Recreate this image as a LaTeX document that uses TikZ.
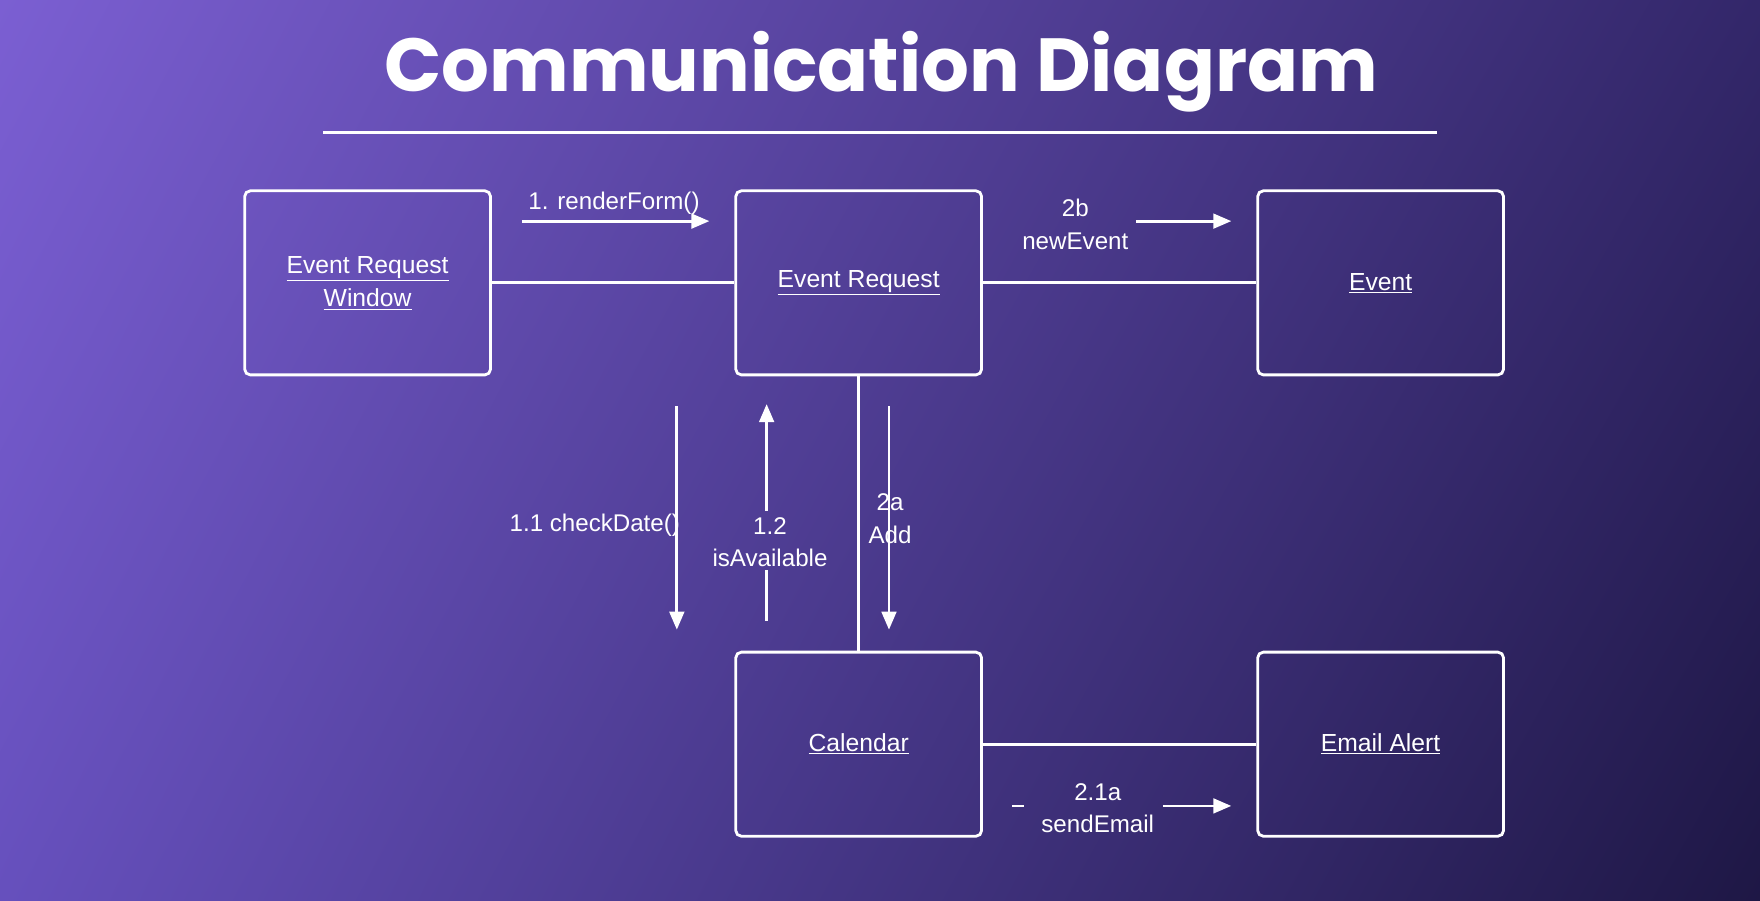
\documentclass[tikz,border=0pt]{standalone}
\usepackage{fontspec}
\setmainfont{Liberation Sans}
\newfontfamily\titlefont{Poppins}
\usetikzlibrary{arrows.meta,shadings}
\definecolor{tl}{HTML}{7B5FD2}
\definecolor{tr}{HTML}{33276A}
\definecolor{bl}{HTML}{6650BD}
\definecolor{br}{HTML}{1E1745}
\begin{document}
\begin{tikzpicture}[x=1pt,y=-1pt,
  obj/.style={draw=white,line width=2.5pt,rounded corners=5pt,minimum width=219pt,minimum height=164pt,text=white,font=\fontsize{22}{30}\selectfont,align=center},
  lbl/.style={text=white,font=\fontsize{21.5}{29}\selectfont,align=center,inner sep=1pt},
  conn/.style={draw=white,line width=2.5pt},
  msg/.style={draw=white,line width=2.5pt,-{Triangle[width=13pt,length=16pt]}}]
\shade[upper left=tl,upper right=tr,lower left=bl,lower right=br] (0,0) rectangle (1568,802);
\useasboundingbox (0,0) rectangle (1568,802);
\node[text=white,font=\titlefont\bfseries\fontsize{67}{72}\selectfont] (title) at (785,64) {Communication Diagram};
\coordinate (ul1) at (288,118); \coordinate (ul2) at (1280,118);
\draw[white,line width=2.5pt] (ul1) -- (ul2);
\node[obj] (erw) at (327.5,252) {\underline{Event Request}\\\underline{Window}};
\node[obj] (er) at (765,252) {\underline{Event Request}};
\node[obj] (ev) at (1230,252) {\underline{Event}};
\node[obj] (cal) at (765,663) {\underline{Calendar}};
\node[obj] (em) at (1230,663) {\underline{Email Alert}};
\draw[conn] (erw) -- (er);
\draw[conn] (er) -- (ev);
\draw[conn] (er) -- (cal);
\draw[conn] (cal) -- (em);
% messages
\coordinate (a1) at (465,197); \coordinate (a2) at (632,197);
\draw[msg] (a1) -- (a2);
\node[lbl] (l1) at (547,181) {1. renderForm()};
\coordinate (b1) at (1012,197); \coordinate (b2) at (1097,197);
\draw[msg] (b1) -- (b2);
\node[lbl] (l2b) at (958,200) {2b\\newEvent};
\coordinate (c1) at (603,362); \coordinate (c2) at (603,561);
\draw[msg] (c1) -- (c2);
\node[lbl,anchor=east] (l11) at (607,468) {1.1 checkDate()};
\coordinate (d1) at (683,553); \coordinate (d3) at (683,508);
\coordinate (d4) at (683,455); \coordinate (d2) at (683,360);
\draw[conn] (d1) -- (d3);
\draw[msg] (d4) -- (d2);
\node[lbl] (l12) at (686,483) {1.2\\isAvailable};
\coordinate (e1) at (792,362); \coordinate (e2) at (792,561);
\draw[msg] (e1) -- (e2);
\node[lbl] (l2a) at (793,462) {2a\\Add};
\coordinate (f1) at (1036,718); \coordinate (f2) at (1097,718);
\draw[msg] (f1) -- (f2);
\node[lbl] (l21) at (978,720) {2.1a\\sendEmail};
\coordinate (g1) at (902,718); \coordinate (g2) at (912,718);
\draw[conn] (g1) -- (g2);
\end{tikzpicture}
\end{document}
